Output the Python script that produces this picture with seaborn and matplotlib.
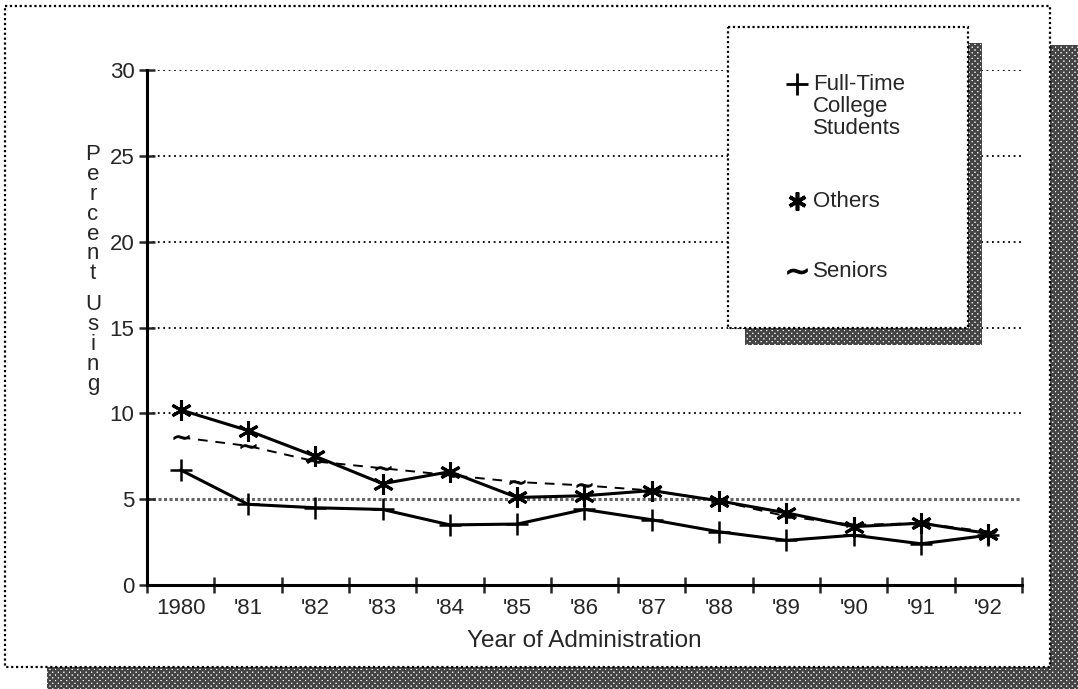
import matplotlib
matplotlib.use("Agg")
import matplotlib.pyplot as plt
import seaborn as sns
from matplotlib.patches import Rectangle
from matplotlib.lines import Line2D

# data
years = [1980, 1981, 1982, 1983, 1984, 1985, 1986, 1987, 1988, 1989, 1990, 1991, 1992]
year_labels = ["1980", "'81", "'82", "'83", "'84", "'85", "'86", "'87", "'88", "'89", "'90", "'91", "'92"]
full_time = [6.7, 4.7, 4.5, 4.4, 3.5, 3.55, 4.4, 3.8, 3.1, 2.6, 2.9, 2.4, 2.9]
others = [10.2, 9.0, 7.5, 5.9, 6.6, 5.1, 5.2, 5.5, 4.9, 4.2, 3.4, 3.6, 3.0]
seniors = [8.6, 8.1, 7.2, 6.8, 6.4, 6.0, 5.8, 5.5, 4.9, 4.0, 3.5, 3.6, 3.1]
y_ticks = [0, 5, 10, 15, 20, 25, 30]

sns.set_style("white")
plt.rcParams["font.family"] = ["Liberation Sans", "DejaVu Sans"]
plt.rcParams["hatch.linewidth"] = 1.8

W, H = 1078, 689
fig = plt.figure(figsize=(W / 100, H / 100), dpi=100)

# background: page box with hatched drop shadow (pixel coords)
bg = fig.add_axes([0, 0, 1, 1], zorder=0)
bg.set_xlim(0, W)
bg.set_ylim(H, 0)
bg.axis("off")
bg.add_patch(Rectangle((47, 45), W - 47 + 5, H - 45 + 5, facecolor="white",
                       hatch="xxxxxx", edgecolor="#444444", lw=0))
bg.add_patch(Rectangle((5, 6), 1045, 661, facecolor="white", edgecolor="black",
                       lw=1.6, linestyle=(0, (1, 1.2))))

# main plot area
ax = fig.add_axes([147 / W, 1 - 585 / H, (1022 - 147) / W, (585 - 70) / H], zorder=1)
ax.patch.set_alpha(0)

sns.lineplot(x=years, y=full_time, ax=ax, color="black", lw=2.2,
             marker="+", markersize=16, markeredgewidth=1.8,
             markeredgecolor="black")
sns.lineplot(x=years, y=others, ax=ax, color="black", lw=2.2,
             marker=(6, 2, 0), markersize=15, markeredgewidth=2.2,
             markeredgecolor="black")
sns.lineplot(x=years, y=seniors, ax=ax, color="black", lw=1.4,
             linestyle=(0, (5, 4)), marker="$\\sim$", markersize=11,
             markeredgewidth=0.6, markeredgecolor="black")

# gridlines
for v in y_ticks[2:]:
    ax.axhline(v, color="black", lw=1.3, linestyle=(0, (1, 2)), zorder=0)
ax.axhline(5, color="#666666", lw=2.2, linestyle=(0, (1, 0.8)), zorder=0)

ax.set_yticks(y_ticks)
ax.set_yticklabels([str(v) for v in y_ticks])
ax.set_xticks(years)
ax.set_xticklabels(year_labels)
ax.set_xticks([y + 0.5 for y in [1979] + years], minor=True)
ax.set_xlim(1979.5, 1992.5)
ax.set_ylim(0, 30)
ax.tick_params(axis="x", which="major", length=0, pad=9, labelsize=16)
ax.tick_params(axis="x", which="minor", length=12, width=1.8, direction="inout",
               bottom=True)
ax.tick_params(axis="y", length=12, width=1.8, direction="inout", left=True,
               pad=3, labelsize=16)

for side in ["top", "right"]:
    ax.spines[side].set_visible(False)
for side in ["left", "bottom"]:
    ax.spines[side].set_linewidth(2.2)
    ax.spines[side].set_color("black")

ax.set_xlabel("Year of Administration", fontsize=17.5, labelpad=8)

# stacked vertical y label
fig.text(93 / W, 1 - 144 / H, "P\ne\nr\nc\ne\nn\nt", ha="center", va="top",
         fontsize=16, linespacing=0.93)
fig.text(93 / W, 1 - 294 / H, "U\ns\ni\nn\ng", ha="center", va="top",
         fontsize=16, linespacing=0.93)

# legend box drawn on top
ov = fig.add_axes([0, 0, 1, 1], zorder=3)
ov.set_xlim(0, W)
ov.set_ylim(H, 0)
ov.axis("off")
ov.patch.set_alpha(0)
ov.add_patch(Rectangle((745, 43), 237, 302, facecolor="white", hatch="xxxxxx",
                       edgecolor="#444444", lw=0))
ov.add_patch(Rectangle((728, 27), 240, 301, facecolor="white", edgecolor="black",
                       lw=1.6, linestyle=(0, (1, 1.2))))

entries = [
    ("Full-Time\nCollege\nStudents", dict(marker="+", markersize=16, markeredgewidth=2.0), 84),
    ("Others", dict(marker=(6, 2, 0), markersize=13, markeredgewidth=2.6), 201),
    ("Seniors", dict(marker="$\\sim$", markersize=14, markeredgewidth=0.8), 271),
]
for label, mk, yy in entries:
    ov.add_line(Line2D([797], [yy], color="black", linestyle="none", **mk))
    ov.text(813, yy - 10, label, ha="left", va="top", fontsize=16, linespacing=1.05)

fig.savefig("out.png", dpi=100)
